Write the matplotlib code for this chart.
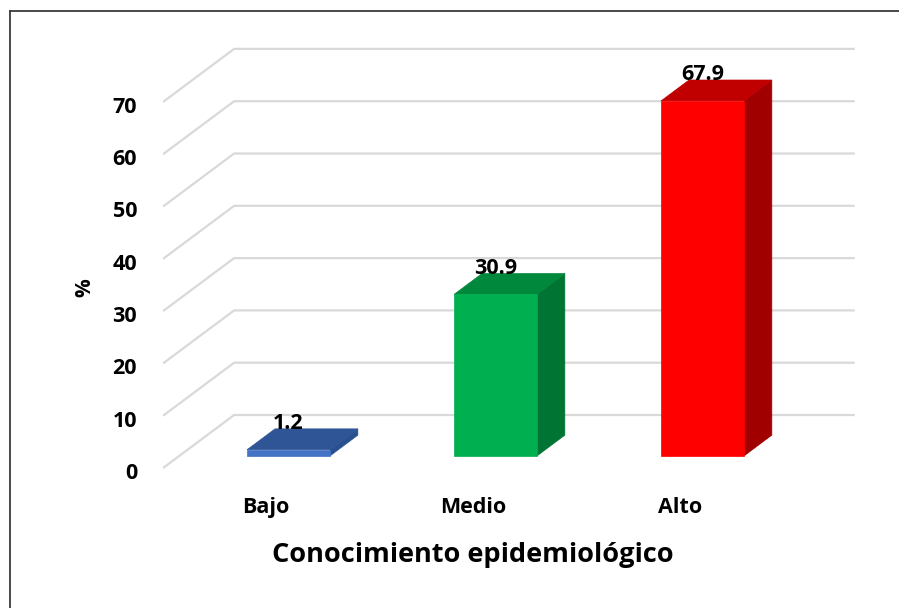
import matplotlib
matplotlib.use("Agg")
import matplotlib.pyplot as plt
from matplotlib.patches import Polygon
from matplotlib.lines import Line2D

# Data
categories = ["Bajo", "Medio", "Alto"]
values = [1.2, 30.9, 67.9]
labels = ["1.2", "30.9", "67.9"]
yticks = [0, 10, 20, 30, 40, 50, 60, 70]

# Face colours per bar: front, top, side
front_colors = ["#4472C4", "#00B050", "#FF0000"]
top_colors = ["#2F5597", "#00883C", "#C00000"]
side_colors = ["#2A4F8F", "#007432", "#A00000"]

plt.rcParams["font.family"] = ["Open Sans", "DejaVu Sans"]

fig = plt.figure(figsize=(8.99, 6.08), dpi=100)
ax = fig.add_axes([0, 0, 1, 1])
ax.set_xlim(-1.316, 3.027)
ax.set_ylim(-26.77, 89.48)
ax.axis("off")

# Oblique projection: depth d in [0, 1] shifts right and up
KX, KV = 0.343, 10.13


def proj(x, v, d):
    return (x + KX * d, v + KV * d)


wall_x = -0.528
floor_x1 = 2.47
grid_color = "#D9D9D9"

# Gridlines on the side wall and back wall
for t in yticks:
    p0 = proj(wall_x, t, 0)
    p1 = proj(wall_x, t, 1)
    p2 = proj(floor_x1, t, 1)
    ax.plot([p0[0], p1[0], p2[0]], [p0[1], p1[1], p2[1]],
            color=grid_color, lw=1.6, solid_capstyle="butt", zorder=1)
    ax.text(wall_x - 0.126, t - 2.1, f"{t}", ha="right", va="baseline",
            fontsize=15.5, fontweight="bold", color="black")

# Bars as prisms
w = 0.4
d0, d1 = 0.226, 0.62
for i, (v, fc, tc, sc, lab) in enumerate(zip(values, front_colors, top_colors,
                                               side_colors, labels)):
    xl, xr = i - w / 2, i + w / 2
    front = [proj(xl, 0, d0), proj(xr, 0, d0), proj(xr, v, d0), proj(xl, v, d0)]
    top = [proj(xl, v, d0), proj(xr, v, d0), proj(xr, v, d1), proj(xl, v, d1)]
    side = [proj(xr, 0, d0), proj(xr, v, d0), proj(xr, v, d1), proj(xr, 0, d1)]
    ax.add_patch(Polygon(side, closed=True, fc=sc, ec=sc, lw=0.5, zorder=3))
    ax.add_patch(Polygon(top, closed=True, fc=tc, ec=tc, lw=0.5, zorder=3))
    ax.add_patch(Polygon(front, closed=True, fc=fc, ec=fc, lw=0.5, zorder=4))
    lx, ly = proj(i, v, d1)
    ax.text(i + KX * d0, ly, lab, ha="center", va="baseline",
            fontsize=15.5, fontweight="bold", color="black", zorder=6)
    ax.text(i - 0.03, -8.6, categories[i], ha="center", va="baseline",
            fontsize=15.5, fontweight="bold", color="black")

ax.text(0.97, -17.97, "Conocimiento epidemiológico", ha="center", va="baseline",
        fontsize=19.5, fontweight="bold", color="black")
ax.text(-0.905, 34.4, "%", ha="center", va="center", rotation=90,
        fontsize=15, fontweight="bold", color="black")

# Chart frame
fig.add_artist(Line2D([10 / 899, 1], [1 - 11 / 608, 1 - 11 / 608],
                      transform=fig.transFigure, color="#3A3A3A", lw=1.3))
fig.add_artist(Line2D([10 / 899, 10 / 899], [0, 1 - 11 / 608],
                      transform=fig.transFigure, color="#3A3A3A", lw=1.3))

fig.savefig("out.png", dpi=100, facecolor="white")
